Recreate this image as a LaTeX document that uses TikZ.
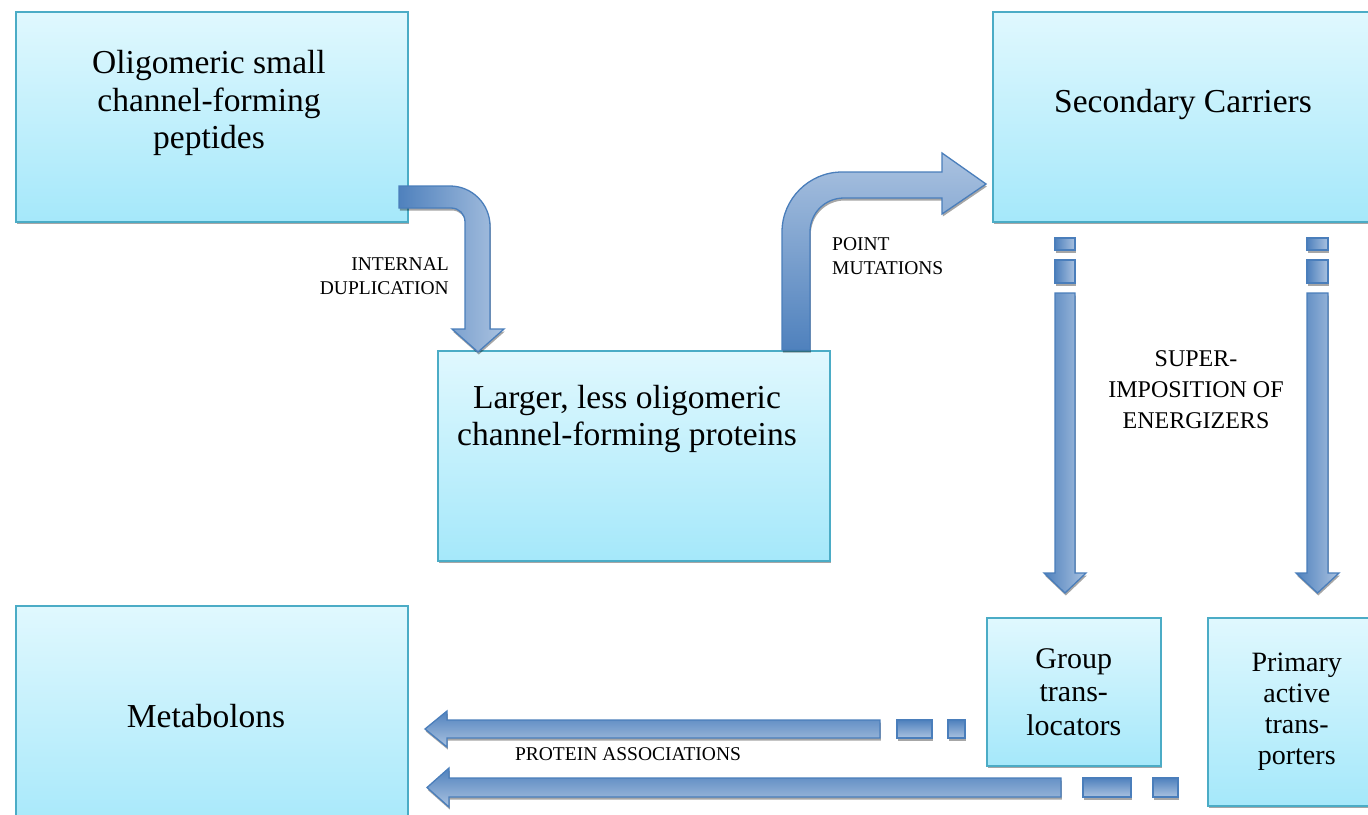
\documentclass[tikz,border=0pt]{standalone}
\usepackage{fontspec}
\setmainfont{Liberation Serif}
\usetikzlibrary{shadows}
\definecolor{boxtop}{HTML}{E0F8FE}
\definecolor{boxbot}{HTML}{A5E8FA}
\definecolor{boxborder}{HTML}{4BACC6}
\definecolor{arrowdark}{HTML}{4F81BD}
\definecolor{arrowlight}{HTML}{AAC2E0}
\definecolor{arrowborder}{HTML}{4A7EBB}
\begin{document}
\begin{tikzpicture}[x=1pt,y=-1pt,
  shad/.style={drop shadow={shadow xshift=0.8pt, shadow yshift=-2.5pt, opacity=0.35, fill=black}},
  box/.style={shad, rectangle, draw=boxborder, line width=1.5pt, top color=boxtop, bottom color=boxbot, inner sep=0pt, anchor=north west},
  bigtxt/.style={inner sep=0pt, align=center, font=\fontsize{33.5}{37.5}\selectfont},
  lbl/.style={inner sep=0pt, font=\fontsize{19.5}{24.5}\selectfont},
  lbltwo/.style={inner sep=0pt, align=center, font=\fontsize{24}{31}\selectfont},
  arr/.style={shad, draw=arrowborder, line width=1.3pt, line join=miter}]
\useasboundingbox (0,0) rectangle (1368,814);
\fill[white] (0,0) rectangle (1368,814);

% boxes
\node[box, minimum width=392pt, minimum height=210pt] (A) at (15,11) {};
\node[box, minimum width=392pt, minimum height=210pt] (B) at (437,350) {};
\node[box, minimum width=382pt, minimum height=210pt] (C) at (992,11) {};
\node[box, minimum width=392pt, minimum height=230pt] (D) at (15,605) {};
\node[box, minimum width=174pt, minimum height=148pt, align=center, font=\fontsize{30}{33.5}\selectfont] (E) at (986,617) {Group\\trans-\\locators};
\node[box, minimum width=178pt, minimum height=188pt, align=center, font=\fontsize{28}{31}\selectfont] (F) at (1207,617) {Primary\\active\\trans-\\porters};

% box texts
\node[bigtxt] (Atext) at (209,103) {Oligomeric small\\channel-forming\\peptides};
\node[bigtxt] (Btext) at (627,419) {Larger, less oligomeric\\channel-forming proteins};
\node[bigtxt] (Ctext) at (1183,104) {Secondary Carriers};
\node[bigtxt] (Dtext) at (206,716) {Metabolons};

% labels
\node[lbl, align=right, anchor=east] (dup) at (449,276) {INTERNAL\\DUPLICATION};
\node[lbl, align=left, anchor=west] (pm) at (832,256) {POINT\\MUTATIONS};
\node[lbltwo] (sup) at (1196,390) {SUPER-\\IMPOSITION OF\\ENERGIZERS};
\node[lbl] (pa) at (628,754) {PROTEIN ASSOCIATIONS};

% bent arrow A -> B
\path[arr, left color=arrowdark, right color=arrowlight]
  (399,186) -- (450,186) .. controls (472,186) and (490,204) .. (490,226)
  -- (490,329) -- (504,329) -- (478,352) -- (452,329) -- (465,329)
  -- (465,222) .. controls (465,214) and (459,208) .. (451,208) -- (399,208) -- cycle;

% bent arrow B -> C
\path[arr, top color=arrowlight, bottom color=arrowdark]
  (782,350) -- (782,232) .. controls (782,199) and (809,172) .. (842,172)
  -- (942,172) -- (942,153) -- (986,184) -- (942,214) -- (942,198)
  -- (844,198) .. controls (825,198) and (810,213) .. (810,232) -- (810,350) -- cycle;

% dashed vertical arrows C -> E, C -> F
\foreach \xl/\xr/\hl/\hr/\tip in {1055/1075/1044/1086/1065, 1307/1328/1296/1339/1317.5}{
  \path[arr, left color=arrowdark, right color=arrowlight] (\xl,238) rectangle (\xr,250);
  \path[arr, left color=arrowdark, right color=arrowlight] (\xl,260) rectangle (\xr,283);
  \path[arr, left color=arrowdark, right color=arrowlight]
    (\xl,293) -- (\xr,293) -- (\xr,573) -- (\hr,573) -- (\tip,593) -- (\hl,573) -- (\xl,573) -- cycle;
}

% dashed horizontal arrows E -> D, F -> D
\path[arr, top color=arrowdark, bottom color=arrowlight]
  (880,720) -- (447,720) -- (447,711) -- (425,729) -- (447,747) -- (447,738) -- (880,738) -- cycle;
\path[arr, top color=arrowdark, bottom color=arrowlight] (897,720) rectangle (932,738);
\path[arr, top color=arrowdark, bottom color=arrowlight] (948,720) rectangle (965,738);

\path[arr, top color=arrowdark, bottom color=arrowlight]
  (1061,778) -- (449,778) -- (449,768) -- (427,787.5) -- (449,807) -- (449,797) -- (1061,797) -- cycle;
\path[arr, top color=arrowdark, bottom color=arrowlight] (1083,778) rectangle (1131,797);
\path[arr, top color=arrowdark, bottom color=arrowlight] (1153,778) rectangle (1178,797);
\end{tikzpicture}
\end{document}
